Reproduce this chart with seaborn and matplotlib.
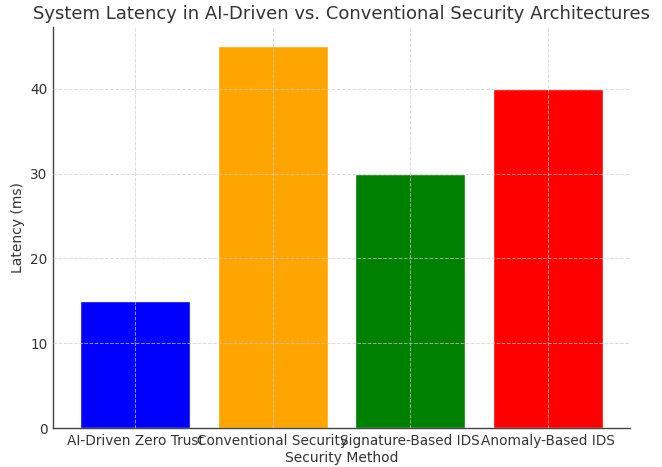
import matplotlib
matplotlib.use("Agg")
import matplotlib.pyplot as plt
import seaborn as sns
import pandas as pd

methods = ["AI-Driven Zero Trust", "Conventional Security", "Signature-Based IDS", "Anomaly-Based IDS"]
latency = [15, 45, 30, 40]
colors = ["blue", "orange", "green", "red"]

df = pd.DataFrame({"Security Method": methods, "Latency (ms)": latency})

sns.set_style("white")
plt.rcParams["font.family"] = ["DejaVu Sans"]

fig, ax = plt.subplots(figsize=(6.62, 4.67), dpi=100)
sns.barplot(data=df, x="Security Method", y="Latency (ms)", hue="Security Method",
            palette=colors, legend=False, width=0.8, saturation=1, ax=ax)

ax.set_xlim(-0.6, 3.6)
ax.set_ylim(0, 47.25)
ax.set_yticks([0, 10, 20, 30, 40])
ax.grid(True, linestyle="--", color="#cccccc", linewidth=0.7, alpha=0.7)
ax.set_axisbelow(False)
for s in ["top", "right"]:
    ax.spines[s].set_visible(False)
for s in ["left", "bottom"]:
    ax.spines[s].set_color("#444444")
    ax.spines[s].set_linewidth(1.0)
ax.tick_params(axis="both", length=0, labelsize=9.8, colors="#333333", pad=4)
ax.set_title("System Latency in AI-Driven vs. Conventional Security Architectures",
             fontsize=13, color="#333333")
ax.set_xlabel("Security Method", fontsize=10, color="#333333", labelpad=2)
ax.set_ylabel("Latency (ms)", fontsize=10, color="#333333")

fig.subplots_adjust(left=0.08, right=0.952, top=0.942, bottom=0.083)
fig.savefig("out.png", dpi=100)
